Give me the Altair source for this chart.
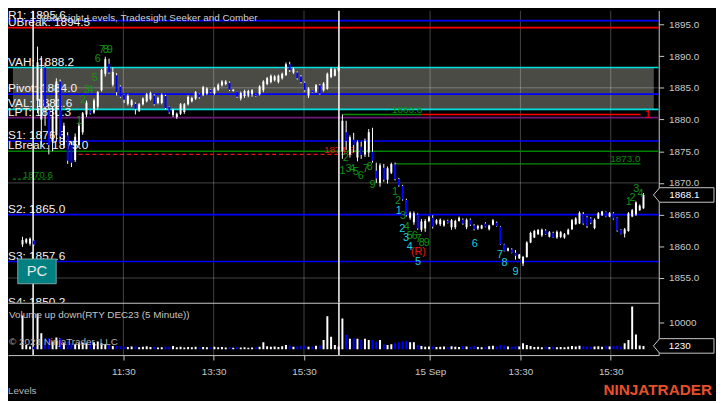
import altair as alt
import pandas as pd

# ---------------- data ----------------
# 5-minute bars, index k (k <= 0: Sep 13 close, 1..81: Sep 14, 82..162: Sep 15)
bar_open = [
    1860.3, 1860.6, 1860.4, 1860.9,
    1883.0, 1880.0, 1888.2, 1881.5, 1876.5, 1877.5, 1886.0, 1876.0, 1877.5, 1876.0,
    1873.6, 1876.0, 1878.0, 1880.8, 1881.3, 1881.1, 1882.0, 1884.6, 1887.2, 1888.8,
    1885.5, 1887.0, 1885.2, 1883.9, 1882.5, 1882.3, 1882.5, 1881.4, 1882.4, 1882.9,
    1883.2, 1883.8, 1882.6, 1882.6, 1883.7, 1882.0, 1880.7, 1880.4, 1880.9, 1881.2,
    1882.4, 1882.9, 1883.3, 1884.0, 1883.9, 1884.1, 1884.7, 1884.1, 1884.7, 1885.4,
    1885.6, 1885.8, 1884.5, 1884.4, 1883.3, 1883.7, 1883.8, 1884.0, 1883.9, 1884.0,
    1884.6, 1885.6, 1885.9, 1886.2, 1885.9, 1886.5, 1887.0, 1888.7, 1887.4, 1887.4,
    1886.8, 1885.8, 1883.8, 1884.6, 1884.4, 1885.4, 1884.6, 1884.8, 1886.7, 1886.9,
    1887.7,
    1875.0, 1878.0, 1874.5, 1876.8, 1874.0, 1875.7, 1874.5, 1874.8, 1874.9, 1871.9,
    1870.0, 1872.4, 1870.5, 1871.6, 1872.9, 1870.6, 1869.5, 1867.3, 1864.5, 1863.8,
    1865.0, 1862.6, 1862.8, 1864.0, 1864.5, 1863.6, 1863.5, 1863.3, 1864.0, 1863.0,
    1863.0, 1864.0, 1864.2, 1863.0, 1864.2, 1863.3, 1862.8, 1862.8, 1863.6, 1862.7,
    1863.4, 1863.7, 1863.1, 1860.3, 1859.3, 1859.5, 1859.0, 1858.1, 1857.3, 1858.3,
    1860.6, 1861.4, 1861.9, 1861.7, 1862.5, 1861.5, 1862.1, 1861.4, 1861.5, 1861.4,
    1861.9, 1862.7, 1863.5, 1863.6, 1865.1, 1864.6, 1864.4, 1862.9, 1864.4, 1864.9,
    1865.4, 1864.7, 1865.2, 1864.5, 1862.6, 1862.0, 1862.4, 1864.7, 1865.0, 1865.7,
    1866.0,
]
bar_high = [
    1861.5, 1861.3, 1861.4, 1861.0,
    1891.5, 1890.0, 1889.0, 1882.5, 1882.0, 1886.5, 1886.3, 1879.5, 1878.0, 1876.5,
    1877.8, 1879.5, 1881.2, 1883.0, 1881.4, 1883.3, 1884.5, 1888.0, 1889.9, 1889.6,
    1888.2, 1887.3, 1885.4, 1884.0, 1884.0, 1883.2, 1882.7, 1882.6, 1883.5, 1884.2,
    1884.4, 1884.0, 1883.6, 1884.1, 1883.9, 1882.1, 1881.7, 1881.1, 1882.6, 1882.6,
    1883.8, 1883.6, 1884.5, 1884.1, 1885.3, 1885.1, 1884.8, 1885.1, 1885.7, 1886.2,
    1886.2, 1886.0, 1884.8, 1884.5, 1884.4, 1884.7, 1884.7, 1884.8, 1884.0, 1885.4,
    1886.2, 1886.7, 1887.1, 1887.0, 1887.1, 1887.4, 1889.0, 1889.1, 1888.2, 1887.6,
    1887.0, 1886.0, 1885.1, 1884.7, 1885.6, 1885.6, 1885.9, 1887.4, 1888.2, 1888.1,
    1888.5,
    1880.8, 1879.8, 1877.5, 1877.9, 1876.7, 1876.5, 1877.0, 1878.5, 1878.7, 1873.2,
    1873.1, 1873.0, 1872.6, 1873.2, 1873.2, 1870.8, 1869.7, 1867.5, 1865.5, 1865.5,
    1865.2, 1864.3, 1864.3, 1864.8, 1864.9, 1864.3, 1864.4, 1864.2, 1864.2, 1864.3,
    1864.2, 1864.7, 1864.4, 1864.4, 1864.4, 1863.5, 1863.4, 1863.4, 1863.8, 1863.4,
    1864.3, 1863.9, 1863.2, 1860.4, 1859.8, 1859.7, 1859.4, 1858.8, 1858.5, 1860.8,
    1862.3, 1862.6, 1862.7, 1862.8, 1862.7, 1862.4, 1862.3, 1862.5, 1862.4, 1862.1,
    1862.8, 1864.3, 1864.6, 1865.5, 1865.4, 1864.8, 1864.6, 1864.4, 1865.4, 1865.6,
    1865.5, 1865.4, 1865.4, 1864.6, 1862.7, 1862.9, 1865.4, 1865.9, 1867.1, 1866.6,
    1868.4,
]
bar_low = [
    1859.9, 1860.4, 1860.1, 1860.1,
    1881.0, 1876.0, 1879.0, 1874.5, 1875.0, 1876.5, 1876.5, 1875.5, 1873.0, 1872.5,
    1873.3, 1875.5, 1877.6, 1880.4, 1880.8, 1880.9, 1881.6, 1884.4, 1886.8, 1887.2,
    1885.2, 1883.8, 1883.4, 1882.6, 1882.2, 1882.0, 1880.8, 1881.2, 1882.2, 1882.7,
    1883.0, 1882.2, 1882.4, 1882.4, 1881.6, 1880.9, 1880.4, 1880.1, 1880.7, 1880.9,
    1882.2, 1882.7, 1883.1, 1883.3, 1883.7, 1883.9, 1884.2, 1883.9, 1884.5, 1885.2,
    1885.4, 1884.5, 1884.4, 1883.4, 1883.0, 1883.4, 1883.5, 1883.6, 1883.6, 1883.8,
    1884.3, 1885.4, 1885.7, 1886.0, 1885.7, 1886.3, 1886.9, 1887.5, 1887.2, 1886.3,
    1885.7, 1884.4, 1883.4, 1884.2, 1884.2, 1883.9, 1884.4, 1884.7, 1886.5, 1886.8,
    1887.5,
    1873.8, 1875.2, 1874.0, 1874.8, 1873.4, 1873.8, 1874.1, 1874.1, 1873.2, 1870.0,
    1869.4, 1870.2, 1869.9, 1871.4, 1870.4, 1869.4, 1867.2, 1864.7, 1864.2, 1863.4,
    1862.6, 1862.3, 1862.3, 1863.8, 1862.8, 1863.4, 1863.2, 1863.1, 1863.6, 1862.6,
    1862.7, 1863.9, 1863.4, 1862.7, 1863.2, 1862.5, 1862.6, 1862.7, 1863.0, 1862.5,
    1863.3, 1863.1, 1860.2, 1859.2, 1859.2, 1858.9, 1857.9, 1858.0, 1856.9, 1858.2,
    1860.5, 1861.3, 1861.8, 1861.5, 1861.8, 1861.4, 1861.3, 1861.2, 1861.3, 1861.2,
    1861.8, 1862.6, 1863.4, 1863.5, 1863.4, 1862.9, 1863.5, 1862.7, 1864.3, 1864.8,
    1864.6, 1864.6, 1864.2, 1862.3, 1861.9, 1861.4, 1862.3, 1864.6, 1864.8, 1865.6,
    1865.9,
]
bar_close = [
    1861.0, 1861.1, 1861.2, 1860.3,
    1889.0, 1888.0, 1882.0, 1876.0, 1880.5, 1886.0, 1877.3, 1879.0, 1873.5, 1873.2,
    1877.3, 1879.0, 1881.0, 1882.7, 1881.0, 1883.0, 1884.3, 1887.8, 1889.5, 1887.4,
    1887.5, 1884.3, 1883.6, 1883.1, 1883.7, 1883.0, 1881.7, 1882.4, 1883.3, 1884.0,
    1884.2, 1882.4, 1883.4, 1883.9, 1881.8, 1881.1, 1881.5, 1880.9, 1882.4, 1882.4,
    1883.6, 1883.4, 1884.3, 1883.5, 1885.1, 1884.9, 1884.3, 1884.9, 1885.5, 1886.0,
    1886.0, 1884.7, 1884.7, 1883.6, 1884.2, 1884.5, 1884.5, 1884.6, 1883.7, 1885.2,
    1886.0, 1886.5, 1886.9, 1886.8, 1886.9, 1887.2, 1888.7, 1887.8, 1888.0, 1886.5,
    1885.9, 1884.6, 1884.9, 1884.3, 1885.4, 1884.1, 1885.7, 1887.2, 1888.0, 1887.9,
    1888.3,
    1879.8, 1876.6, 1877.2, 1876.0, 1876.4, 1874.4, 1876.6, 1878.0, 1873.5, 1870.7,
    1872.8, 1870.5, 1872.3, 1873.0, 1870.6, 1869.6, 1867.4, 1864.9, 1865.3, 1865.2,
    1862.8, 1863.9, 1864.0, 1864.6, 1863.1, 1864.1, 1864.2, 1864.0, 1863.7, 1864.1,
    1864.0, 1864.5, 1863.6, 1864.2, 1863.4, 1862.7, 1863.2, 1863.3, 1863.1, 1863.3,
    1864.1, 1863.2, 1860.3, 1859.3, 1859.7, 1859.0, 1858.5, 1858.7, 1858.3, 1860.6,
    1862.1, 1862.4, 1862.6, 1862.6, 1861.9, 1862.2, 1861.4, 1862.3, 1862.2, 1861.9,
    1862.6, 1864.1, 1864.4, 1865.3, 1863.6, 1863.2, 1863.7, 1864.2, 1865.2, 1865.5,
    1864.7, 1865.2, 1864.4, 1862.5, 1862.0, 1862.7, 1865.2, 1865.7, 1866.9, 1866.4,
    1868.1,
]
bar_volume = [
    12800, 1600, 1000, 900,
    13500, 6000, 4100, 4100, 2900, 4400, 4100, 2200, 2900, 2200,
    1900, 2200, 2500, 2200, 2900, 2600, 2900, 2200, 1900, 1500,
    1200, 1200, 1100, 900, 800, 1000, 1100, 700, 900, 1100,
    800, 900, 600, 700, 1000, 800, 1200, 700, 900, 600,
    800, 700, 900, 600, 800, 700, 600, 900, 700, 800,
    600, 700, 500, 800, 600, 700, 500, 600, 700, 900,
    2600, 1100, 900, 1000, 800, 1100, 1600, 1400, 900, 1000,
    1200, 1300, 900, 1000, 1300, 1400, 3500, 12500, 4700, 1600,
    1000,
    11600, 5400, 3900, 4100, 3900, 3500, 3900, 3500, 3500, 2900,
    3500, 1900, 1600, 1900, 2200, 2600, 2900, 3200, 2600, 2600,
    1600, 1200, 900, 1000, 1100, 800, 900, 1000, 700, 1100,
    900, 800, 1200, 1000, 900, 1200, 800, 700, 900, 1100,
    1300, 1000, 1600, 1400, 1000, 900, 1200, 1000, 2200, 1600,
    1200, 800, 900, 700, 1000, 800, 900, 700, 800, 700,
    900, 1200, 1000, 1300, 1100, 1000, 900, 1000, 1100, 900,
    1200, 1000, 1100, 1300, 1000, 2200, 3500, 16200, 5600, 1400,
    1230,
]
bar_k = list(range(-3, -3 + len(bar_open)))

# Tradesight levels
level_names = ["R1", "UBreak", "VAH", "Pivot", "VAL", "LPT", "S1", "LBreak", "S2", "S3", "S4"]
level_values = [1895.6, 1894.5, 1888.2, 1884.0, 1881.6, 1880.3, 1876.6, 1875.0, 1865.0, 1857.6, 1850.2]
level_kinds = ["resistance", "breakout", "value_area", "pivot", "value_area", "lpt",
               "support", "breakdown", "support", "support", "support"]
value_area = [1881.6, 1888.2]
grid_prices = [1855, 1870, 1885]

# partial target / stop lines
seg_kind = ["high", "target", "entry", "prior", "signal"]
seg_from = [82.1, 103.2, 11.9, -5.54, 96.1]
seg_to = [103.2, 161.2, 85.1, 5.1, 161.2]
seg_price = [1880.8, 1880.8, 1874.5, 1870.6, 1873.0]
seg_text = ["1880.8", "1", "1874.5", "1870.6", "1873.0"]

# Seeker / Comber counts
count_text = ["1", "2", "3", "4", "5", "6", "7", "8", "9",
              "1", "2", "3", "4", "5", "6", "7", "8", "9",
              "1", "2", "3", "4", "5", "6", "7", "8", "9",
              "1", "2", "3", "4", "5", "6", "7", "8", "9",
              "(R)", "1", "2", "3", "4"]
count_k = [12.0, 13.05, 14.1, 15.1, 16.2, 17.0, 18.1, 19.1, 20.2,
           82.0, 82.9, 83.6, 84.6, 85.6, 86.9, 88.2, 89.3, 90.0,
           96.0, 96.8, 98.1, 99.1, 99.9, 101.2, 102.2, 103.1, 104.4,
           97.0, 97.9, 98.9, 99.9, 102.1, 117.2, 123.9, 125.1, 128.0,
           102.2, 158.1, 159.1, 160.1, 161.2]
count_price = [1879.7, 1883.0, 1884.7, 1884.7, 1886.6, 1889.6, 1891.0, 1891.0, 1891.0,
               1871.9, 1874.0, 1872.2, 1872.2, 1871.7, 1871.1, 1872.2, 1872.5, 1869.6,
               1868.5, 1867.2, 1864.7, 1863.1, 1861.7, 1861.7, 1861.1, 1860.5, 1860.5,
               1865.5, 1862.8, 1861.3, 1859.9, 1857.5, 1860.4, 1858.7, 1857.3, 1856.0,
               1859.1, 1867.0, 1867.6, 1869.0, 1868.2]
count_kind = ["seeker"] * 27 + ["comber"] * 9 + ["risk"] + ["seeker"] * 4

session_breaks = [-0.18, 81.08]
tick_pos = [23.8, 47.8, 71.8, 105.3, 129.3, 153.3]
tick_labels = ["11:30", "13:30", "15:30", "15 Sep", "13:30", "15:30"]
price_ticks = [1855, 1860, 1865, 1870, 1875, 1880, 1885, 1890, 1895]
volume_ticks = [10000]

pc_box = {"k0": -4.26, "k1": 5.95, "p0": 1854.1, "p1": 1858.0}
last_price = 1868.1
last_volume = 1230
title_text = "Tradesight Levels, Tradesight Seeker and Comber"
volume_title = "Volume up down(RTY DEC23 (5 Minute))"
copyright_text = "\u00a9 2023 NinjaTrader, LLC"
panel_name = "Levels"
logo_text = "NINJATRADER"

# ---------------- chart ----------------
FONT = "Arial"
W, HP, HV = 659, 296, 53
X_DOM = [-5.54, 164.74]
xs = alt.Scale(domain=X_DOM, nice=False, zero=False)
ps = alt.Scale(domain=[1851.1, 1897.2], nice=False, zero=False)
vs = alt.Scale(domain=[-2250, 17600], nice=False, zero=False)

palette = alt.Scale(
    domain=["up", "down", "resistance", "breakout", "value_area", "pivot", "lpt", "support",
            "breakdown", "high", "target", "entry", "prior", "signal", "seeker", "comber", "risk"],
    range=["#ffffff", "#0000ff", "#0000ff", "#ff0000", "#00e0e0", "#0000ff", "#6b1a78", "#0000ff",
           "#008000", "#0a8c0a", "#ff0000", "#e81010", "#0a8c0a", "#0a8c0a", "#139313", "#1ecfe0", "#e01b1b"],
)
dash_scale = alt.Scale(domain=["high", "target", "entry", "prior", "signal"],
                       range=[[1, 0], [1, 0], [4, 3], [3, 2], [1, 0]])

AX = dict(domainColor="#c8c8c8", tickColor="#c8c8c8", labelColor="#c8c8c8",
          labelFont=FONT, labelFontSize=10, title=None, grid=False,
          labelFlush=False, labelOverlap=False)

label_expr = f"'{tick_labels[-1]}'"
for p, lab in reversed(list(zip(tick_pos[:-1], tick_labels[:-1]))):
    label_expr = f"datum.value <= {p + 0.01} ? '{lab}' : " + label_expr

x_axis_price = alt.Axis(orient="bottom", values=tick_pos, labels=False, ticks=False, domain=True, **AX)
y_axis_price = alt.Axis(orient="right", values=price_ticks, format=".1f", tickSize=5, labelPadding=5, **AX)
x_axis_vol = alt.Axis(orient="bottom", values=tick_pos, labelExpr=label_expr, tickSize=5, labelPadding=7, **AX)
y_axis_vol = alt.Axis(orient="right", values=volume_ticks, format="d", tickSize=5, labelPadding=5, **AX)

COL = lambda f="kind": alt.Color(f + ":N", scale=palette, legend=None)
XK = lambda f="k": alt.X(f + ":Q", scale=xs, axis=x_axis_price)
XV = lambda f="k": alt.X(f + ":Q", scale=xs, axis=x_axis_vol)
YP = lambda f: alt.Y(f + ":Q", scale=ps, axis=y_axis_price)
YV = lambda f: alt.Y(f + ":Q", scale=vs, axis=y_axis_vol)

bars = pd.DataFrame({"k": bar_k, "o": bar_open, "h": bar_high, "l": bar_low,
                     "c": bar_close, "v": bar_volume})
bars["dir"] = ["up" if c >= o else "down" for o, c in zip(bar_open, bar_close)]
bars["zero"] = 0

lev = pd.DataFrame({"name": level_names, "value": level_values, "kind": level_kinds})
lev["label"] = [f"{n}: {v:.1f}" for n, v in zip(level_names, level_values)]
seg = pd.DataFrame({"kind": seg_kind, "x0": seg_from, "x1": seg_to, "p": seg_price, "label": seg_text})
cnt = pd.DataFrame({"t": count_text, "k": count_k, "p": count_price, "kind": count_kind})
va = pd.DataFrame({"x0": [X_DOM[0]], "x1": [X_DOM[1]], "lo": [value_area[0]], "hi": [value_area[1]]})
pc = pd.DataFrame({"k0": [pc_box["k0"]], "k1": [pc_box["k1"]], "p0": [pc_box["p0"]], "p1": [pc_box["p1"]],
                   "kc": [(pc_box["k0"] + pc_box["k1"]) / 2], "pc": [(pc_box["p0"] + pc_box["p1"]) / 2],
                   "t": ["PC"]})

PATH = "M-1,0L-0.794,-0.24L1,-0.24L1,0.24L-0.794,0.24Z"

# ---- price panel ----
box = alt.Chart(va).mark_rect(color="#4b4b46", clip=True).encode(
    x=XK("x0"), x2="x1", y=YP("lo"), y2="hi")
vgrid = alt.Chart(pd.DataFrame({"k": tick_pos})).mark_rule(
    color="#ffffff", opacity=0.27, strokeWidth=1, clip=True).encode(x=XK())
hgrid = alt.Chart(pd.DataFrame({"p": grid_prices})).mark_rule(
    color="#ffffff", opacity=0.27, strokeWidth=1, clip=True).encode(y=YP("p"))
level_rules = alt.Chart(lev).mark_rule(strokeWidth=1.6, clip=True).encode(y=YP("value"), color=COL())
seg_rules = alt.Chart(seg).mark_rule(strokeWidth=1.4, clip=True).encode(
    x=XK("x0"), x2="x1", y=YP("p"), color=COL(),
    strokeDash=alt.StrokeDash("kind:N", scale=dash_scale, legend=None))
level_text = alt.Chart(lev).mark_text(
    align="left", baseline="alphabetic", dy=-2, fontSize=12, font=FONT, color="#f2f2f2", clip=True
).encode(x=alt.value(0), y=YP("value"), text="label:N")
seg_labels = alt.Chart(seg).transform_filter("datum.kind != 'target'").mark_text(
    align="right", baseline="alphabetic", dy=-1.5, fontSize=10, font=FONT, clip=True
).encode(x=XK("x1"), y=YP("p"), text="label:N", color=COL())
target_label = alt.Chart(seg).transform_filter("datum.kind == 'target'").mark_text(
    align="left", baseline="middle", dx=4, fontSize=12, font=FONT, clip=True
).encode(x=XK("x1"), y=YP("p"), text="label:N", color=COL())
sess = alt.Chart(pd.DataFrame({"k": session_breaks})).mark_rule(
    color="#ffffff", strokeWidth=1.5, clip=True).encode(x=XK())
wicks = alt.Chart(bars).mark_rule(color="#ffffff", strokeWidth=1, clip=True).encode(
    x=XK(), y=YP("l"), y2="h")
bodies = alt.Chart(bars).mark_bar(size=2, clip=True).encode(
    x=XK(), y=YP("o"), y2="c", color=COL("dir"))
counts = alt.Chart(cnt).mark_text(fontSize=11, font=FONT, baseline="middle", clip=True).encode(
    x=XK(), y=YP("p"), text="t:N", color=COL())
pc_rect = alt.Chart(pc).mark_rect(fill="#008080", stroke="#7aa3a3", strokeWidth=1, clip=True).encode(
    x=XK("k0"), x2="k1", y=YP("p0"), y2="p1")
pc_text = alt.Chart(pc).mark_text(fontSize=15, font=FONT, color="#e8e8e8", clip=True).encode(
    x=XK("kc"), y=YP("pc"), text="t:N")
title = alt.Chart(pd.DataFrame({"t": [title_text]})).mark_text(
    align="left", baseline="middle", fontSize=10, font=FONT, color="#d0d0d0"
).encode(x=alt.value(30), y=alt.value(8), text="t:N")
last_df = pd.DataFrame({"p": [last_price], "t": [f"{last_price:.1f}"]})
plabel_box = alt.Chart(last_df).mark_point(
    shape=PATH, size=3758, filled=True, fill="#000000", stroke="#c8c8c8", strokeWidth=1,
    opacity=1, fillOpacity=1, strokeOpacity=1).encode(x=alt.value(684.3), y=YP("p"))
plabel_text = alt.Chart(last_df).mark_text(
    align="left", baseline="middle", fontSize=10, font=FONT, color="#ffffff"
).encode(x=alt.value(669.7), y=YP("p"), text="t:N")

price = alt.layer(box, vgrid, hgrid, level_rules, seg_rules, level_text, seg_labels, target_label,
                  sess, wicks, bodies, counts, pc_rect, pc_text, title, plabel_box, plabel_text
                  ).properties(width=W, height=HP)

# ---- volume panel ----
vgrid2 = alt.Chart(pd.DataFrame({"k": tick_pos})).mark_rule(
    color="#ffffff", opacity=0.27, strokeWidth=1, clip=True).encode(x=XV())
sess2 = alt.Chart(pd.DataFrame({"k": session_breaks})).mark_rule(
    color="#ffffff", strokeWidth=1.5, clip=True).encode(x=XV())
vbars = alt.Chart(bars).mark_bar(size=2, clip=True).encode(
    x=XV(), y=YV("v"), y2="zero", color=COL("dir"))
vtitle = alt.Chart(pd.DataFrame({"t": [volume_title]})).mark_text(
    align="left", baseline="middle", fontSize=10, font=FONT, color="#c4c4c4"
).encode(x=alt.value(1), y=alt.value(12), text="t:N")
vcopy = alt.Chart(pd.DataFrame({"t": [copyright_text]})).mark_text(
    align="left", baseline="middle", fontSize=10, font=FONT, color="#b0b0b0"
).encode(x=alt.value(1), y=alt.value(39.5), text="t:N")
vlast = pd.DataFrame({"v": [last_volume], "t": [str(last_volume)]})
vlabel_box = alt.Chart(vlast).mark_point(
    shape=PATH, size=3758, filled=True, fill="#000000", stroke="#c8c8c8", strokeWidth=1,
    opacity=1, fillOpacity=1, strokeOpacity=1
).encode(x=alt.value(684.3), y=YV("v"))
vlabel_text = alt.Chart(vlast).mark_text(
    align="left", baseline="middle", fontSize=10, font=FONT, color="#ffffff"
).encode(x=alt.value(669.2), y=YV("v"), text="t:N")
pname = alt.Chart(pd.DataFrame({"t": [panel_name]})).mark_text(
    align="left", baseline="middle", fontSize=10, font=FONT, color="#b4b4b4"
).encode(x=alt.value(0), y=alt.value(89.5), text="t:N")
logo = alt.Chart(pd.DataFrame({"t": [logo_text]})).mark_text(
    align="center", baseline="middle", fontSize=15.5, fontWeight="bold", font=FONT, color="#e8502a"
).encode(x=alt.value(658), y=alt.value(88.5), text="t:N")

vol = alt.layer(vgrid2, sess2, vbars, vtitle, vcopy, vlabel_box, vlabel_text, pname, logo
                ).properties(width=W, height=HV)

chart = alt.vconcat(price, vol, spacing=0, bounds="flush").properties(
    background="#000000", padding=0
).configure_view(stroke=None)

chart.save("out.html", embed_options={"renderer": "svg", "actions": False})
